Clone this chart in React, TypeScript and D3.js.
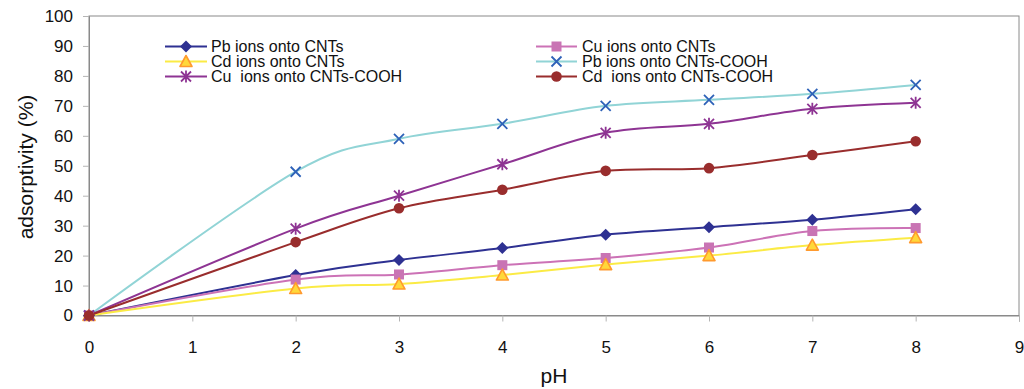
import { useEffect, useRef } from 'react'
import * as d3 from 'd3'

const PH = [0, 2, 3, 4, 5, 6, 7, 8]
const PB_CNT = [0, 13.5, 18.5, 22.5, 27, 29.5, 32, 35.5]
const CU_CNT = [0, 12, 13.7, 16.8, 19.2, 22.7, 28.2, 29.2]
const CD_CNT = [0, 9, 10.5, 13.5, 17, 20, 23.5, 26]
const PB_COOH = [0, 48, 59, 64, 70, 72, 74, 77]
const CU_COOH = [0, 29, 40, 50.5, 61, 64, 69, 71]
const CD_COOH = [0, 24.5, 35.8, 42, 48.3, 49.2, 53.6, 58.2]

const X_TICKS = [0, 1, 2, 3, 4, 5, 6, 7, 8, 9]
const Y_TICKS = [0, 10, 20, 30, 40, 50, 60, 70, 80, 90, 100]

type Marker = 'diamond' | 'square' | 'triangle' | 'x' | 'star' | 'circle'

const SERIES: { label: string; values: number[]; line: string; marker: Marker; fill: string; stroke: string }[] = [
  { label: 'Pb ions onto CNTs', values: PB_CNT, line: '#2E3192', marker: 'diamond', fill: '#2E3192', stroke: '#2E3192' },
  { label: 'Cu ions onto CNTs', values: CU_CNT, line: '#CC72B6', marker: 'square', fill: '#C974B4', stroke: '#C974B4' },
  { label: 'Cd ions onto CNTs', values: CD_CNT, line: '#FBEB45', marker: 'triangle', fill: '#FFD83A', stroke: '#FF9A2E' },
  { label: 'Pb ions onto CNTs-COOH', values: PB_COOH, line: '#91D4D6', marker: 'x', fill: 'none', stroke: '#2E62B8' },
  { label: 'Cu  ions onto CNTs-COOH', values: CU_COOH, line: '#8E3493', marker: 'star', fill: 'none', stroke: '#8E3493' },
  { label: 'Cd  ions onto CNTs-COOH', values: CD_COOH, line: '#992D2D', marker: 'circle', fill: '#992D2D', stroke: '#992D2D' },
]

const FONT = 'Liberation Sans, Arial, sans-serif'

function drawMarker(g: d3.Selection<SVGGElement, unknown, null, undefined>, s: typeof SERIES[0], x: number, y: number) {
  const m = g.append('g').attr('transform', `translate(${x},${y})`)
  if (s.marker === 'diamond') {
    m.append('path').attr('d', 'M0,-6L6,0L0,6L-6,0Z').attr('fill', s.fill)
  } else if (s.marker === 'square') {
    m.append('rect').attr('x', -5).attr('y', -5).attr('width', 10).attr('height', 10).attr('fill', s.fill)
  } else if (s.marker === 'triangle') {
    m.append('path').attr('d', 'M0,-6L6,5L-6,5Z')
      .attr('fill', s.fill).attr('stroke', s.stroke).attr('stroke-width', 1.6).attr('stroke-linejoin', 'round')
  } else if (s.marker === 'x') {
    m.append('path').attr('d', 'M-5,-5L5,5M-5,5L5,-5')
      .attr('stroke', s.stroke).attr('stroke-width', 1.8)
  } else if (s.marker === 'star') {
    m.append('path').attr('d', 'M-5,-5L5,5M-5,5L5,-5M0,-6L0,6')
      .attr('stroke', s.stroke).attr('stroke-width', 1.8)
  } else {
    m.append('circle').attr('r', 5.3).attr('fill', s.fill)
  }
}

export default function App() {
  const svgRef = useRef<SVGSVGElement>(null)

  useEffect(() => {
    const svgEl = svgRef.current
    if (!svgEl) return
    const svg = d3.select(svgEl)
    svg.selectAll('*').remove()

    const left = 89, right = 1019, top = 16, bottom = 315.5
    const x = d3.scaleLinear().domain([0, 9]).range([left, right])
    const y = d3.scaleLinear().domain([0, 100]).range([bottom, top])

    // frame
    svg.append('rect')
      .attr('x', left).attr('y', top).attr('width', right - left).attr('height', bottom - top)
      .attr('fill', 'none').attr('stroke', '#8a8a8a').attr('stroke-width', 1)

    // y axis
    svg.append('g')
      .attr('transform', `translate(${left},0)`)
      .call(d3.axisLeft(y).tickValues(Y_TICKS).tickSize(6).tickPadding(10))
      .call(ax => {
        ax.select('.domain').attr('stroke', '#8a8a8a')
        ax.selectAll('.tick line').attr('stroke', '#b5b5b5')
        ax.selectAll('.tick text').attr('font-family', FONT).attr('font-size', 17).attr('fill', '#111')
      })

    // x axis
    svg.append('g')
      .attr('transform', `translate(0,${bottom})`)
      .call(d3.axisBottom(x).tickValues(X_TICKS).tickSize(6).tickPadding(19))
      .call(ax => {
        ax.select('.domain').attr('stroke', '#8a8a8a')
        ax.selectAll('.tick line').attr('stroke', '#b5b5b5')
        ax.selectAll('.tick text').attr('font-family', FONT).attr('font-size', 17).attr('fill', '#111')
      })

    svg.append('text')
      .attr('x', (left + right) / 2).attr('y', 383).attr('text-anchor', 'middle')
      .attr('font-family', FONT).attr('font-size', 21).attr('fill', '#111')
      .text('pH')
    svg.append('text')
      .attr('transform', 'rotate(-90)')
      .attr('x', -167).attr('y', 33).attr('text-anchor', 'middle')
      .attr('font-family', FONT).attr('font-size', 21).attr('fill', '#111')
      .text('adsorptivity (%)')

    // series
    const line = d3.line<number>()
      .x((_, i) => x(PH[i]))
      .y(v => y(v))
      .curve(d3.curveCardinal)

    SERIES.forEach(s => {
      svg.append('path')
        .attr('d', line(s.values))
        .attr('fill', 'none').attr('stroke', s.line).attr('stroke-width', 2)
    })
    SERIES.forEach(s => {
      const g = svg.append('g')
      s.values.forEach((v, i) => drawMarker(g, s, x(PH[i]), y(v)))
    })

    // legend
    const cols = [{ x0: 165, x1: 207, tx: 211 }, { x0: 536, x1: 577, tx: 582 }]
    const rows = [46.5, 61.5, 76.5]
    SERIES.forEach((s, i) => {
      const c = cols[i % 2]
      const ry = rows[Math.floor(i / 2)]
      const g = svg.append('g')
      g.append('line').attr('x1', c.x0).attr('x2', c.x1).attr('y1', ry).attr('y2', ry)
        .attr('stroke', s.line).attr('stroke-width', 2)
      drawMarker(g, s, (c.x0 + c.x1) / 2, ry)
      g.append('text')
        .attr('x', c.tx).attr('y', ry + 5.5)
        .attr('font-family', FONT).attr('font-size', 16).attr('fill', '#111')
        .style('white-space', 'pre')
        .text(s.label)
    })
  }, [])

  return (
    <>
      <style>{'body{margin:0;background:#fff}'}</style>
      <svg ref={svgRef} width={1024} height={389} style={{ display: 'block' }} />
    </>
  )
}
